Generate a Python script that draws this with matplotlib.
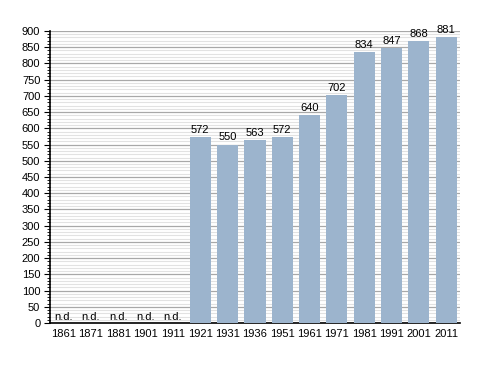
import matplotlib
matplotlib.use('Agg')
import matplotlib.pyplot as plt
from matplotlib.ticker import MultipleLocator

plt.rc('font', family='Liberation Sans', size=8)

years = ['1861', '1871', '1881', '1901', '1911', '1921', '1931', '1936',
         '1951', '1961', '1971', '1981', '1991', '2001', '2011']
population = [None, None, None, None, None, 572, 550, 563,
              572, 640, 702, 834, 847, 868, 881]

fig = plt.figure(figsize=(4.88, 3.73), dpi=100)
ax = fig.add_axes([0.1025, 0.134, 0.84, 0.783])

x = list(range(len(years)))
heights = [v if v is not None else 0 for v in population]
ax.bar(x, heights, width=0.77, color='#9cb4cd', zorder=3)

for i, v in enumerate(population):
    if v is None:
        ax.text(i, 4, 'n.d.', ha='center', va='bottom', fontsize=8)
    else:
        ax.text(i, v + 7, str(v), ha='center', va='bottom', fontsize=8)

ax.set_xlim(-0.5, len(years) - 0.5)
ax.set_ylim(0, 900)
ax.set_xticks(x)
ax.set_xticklabels(years)
ax.yaxis.set_major_locator(MultipleLocator(50))
ax.yaxis.set_minor_locator(MultipleLocator(10))
ax.grid(axis='y', which='major', color='#a8a8a8', linewidth=0.9, zorder=0)
ax.grid(axis='y', which='minor', color='#e2e2e2', linewidth=0.8, zorder=0)
ax.tick_params(axis='x', length=0, pad=4)
ax.tick_params(axis='y', which='major', length=4, width=0.8, direction='out', pad=3)
ax.tick_params(axis='y', which='minor', length=2, width=0.6, direction='out')
ax.spines['top'].set_visible(False)
ax.spines['right'].set_visible(False)
ax.spines['left'].set_linewidth(1.2)
ax.spines['bottom'].set_linewidth(1.2)

plt.savefig('out.png', dpi=100)
